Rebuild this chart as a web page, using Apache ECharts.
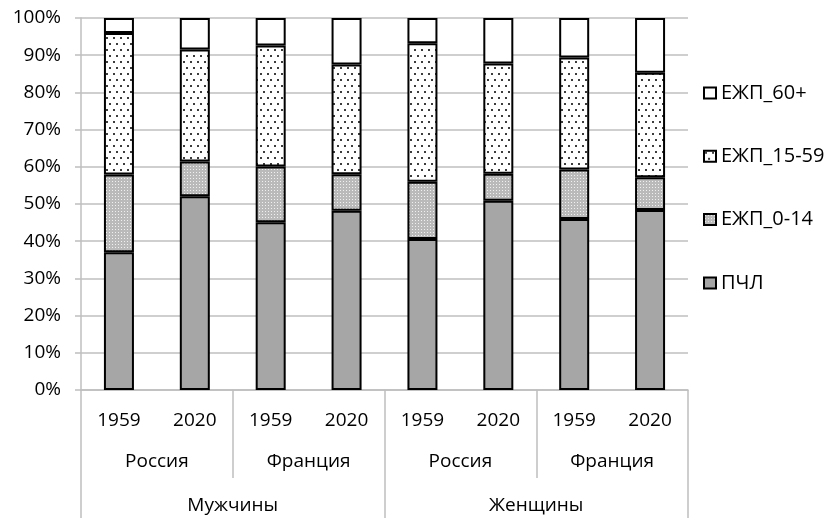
<!DOCTYPE html>
<html>
<head>
<meta charset="utf-8">
<script src="https://cdn.jsdelivr.net/npm/echarts@6/dist/echarts.min.js"></script>
<style>
html,body{margin:0;padding:0;background:#fff;}
#chart{width:830px;height:518px;}
</style>
</head>
<body>
<div id="chart"></div>
<script>
const years = ['1959', '2020', '1959', '2020', '1959', '2020', '1959', '2020'];
const countries = ['Россия', 'Франция', 'Россия', 'Франция'];
const sexes = ['Мужчины', 'Женщины'];
const pchl = [37.0, 52.1, 45.1, 48.2, 40.6, 50.9, 46.0, 48.4];
const e0_14 = [20.9, 9.3, 15.0, 9.8, 15.4, 7.2, 13.3, 8.8];
const e15_59 = [38.1, 30.1, 32.5, 29.5, 37.2, 29.7, 30.1, 28.1];
const e60 = [4.0, 8.5, 7.4, 12.5, 6.8, 12.2, 10.6, 14.7];
const seriesNames = ['ПЧЛ', 'ЕЖП_0-14', 'ЕЖП_15-59', 'ЕЖП_60+'];
const legendOrder = ['ЕЖП_60+', 'ЕЖП_15-59', 'ЕЖП_0-14', 'ПЧЛ'];

function makePattern(w, h, bg, dots, dotColor, size) {
  const c = document.createElement('canvas');
  c.width = w; c.height = h;
  const ctx = c.getContext('2d');
  ctx.fillStyle = bg;
  ctx.fillRect(0, 0, w, h);
  ctx.fillStyle = dotColor;
  dots.forEach(d => ctx.fillRect(d[0], d[1], size, size));
  return { image: c, repeat: 'repeat' };
}
const dotPattern = makePattern(7, 12, '#ffffff', [[1, 1], [4, 7]], '#3c3c3c', 2);
const grayPattern = makePattern(3, 3, '#bababa', [[1, 1]], '#f0f0f0', 1);

const FONT = 'Open Sans';
const chart = echarts.init(document.getElementById('chart'), null, { renderer: 'canvas' });
const border = { borderColor: '#000', borderWidth: 2 };
const values = [pchl, e0_14, e15_59, e60];
const fills = ['#a6a6a6', grayPattern, dotPattern, '#ffffff'];

chart.setOption({
  animation: false,
  textStyle: { fontFamily: FONT },
  grid: { left: 81, right: 142, top: 18, bottom: 128, containLabel: false },
  legend: {
    data: legendOrder,
    orient: 'vertical',
    left: 703,
    top: 83,
    padding: 0,
    itemWidth: 12,
    itemHeight: 11,
    itemGap: 43.3,
    icon: 'rect',
    textStyle: { fontFamily: FONT, fontSize: 20, color: '#000', lineHeight: 20 }
  },
  xAxis: [
    {
      type: 'category', data: years, position: 'bottom',
      axisLine: { show: true, lineStyle: { color: '#bfbfbf', width: 1.5 } },
      axisTick: { show: false },
      axisLabel: { interval: 0, margin: 21, color: '#000', fontSize: 19, fontFamily: FONT }
    },
    {
      type: 'category', data: countries, position: 'bottom',
      axisLine: { show: false },
      axisTick: { show: true, length: 88, interval: 0, lineStyle: { color: '#bfbfbf', width: 1.5 } },
      axisLabel: { interval: 0, margin: 62, color: '#000', fontSize: 19, fontFamily: FONT }
    },
    {
      type: 'category', data: sexes, position: 'bottom',
      axisLine: { show: false },
      axisTick: { show: true, length: 128, interval: 0, lineStyle: { color: '#bfbfbf', width: 1.5 } },
      axisLabel: { interval: 0, margin: 106, color: '#000', fontSize: 19, fontFamily: FONT }
    }
  ],
  yAxis: {
    type: 'value', min: 0, max: 100, interval: 10,
    axisLine: { show: true, lineStyle: { color: '#bfbfbf', width: 1.5 } },
    axisTick: { show: true, length: 6, lineStyle: { color: '#bfbfbf', width: 1.5 } },
    splitLine: { show: true, lineStyle: { color: '#bfbfbf', width: 1.5 } },
    axisLabel: { formatter: '{value}%', margin: 20, color: '#000', fontSize: 19, fontFamily: FONT }
  },
  series: seriesNames.map((name, i) => ({
    name: name,
    type: 'bar',
    stack: 'total',
    xAxisIndex: 0,
    barWidth: 30,
    data: values[i],
    itemStyle: Object.assign({ color: fills[i] }, border)
  }))
});
</script>
</body>
</html>
